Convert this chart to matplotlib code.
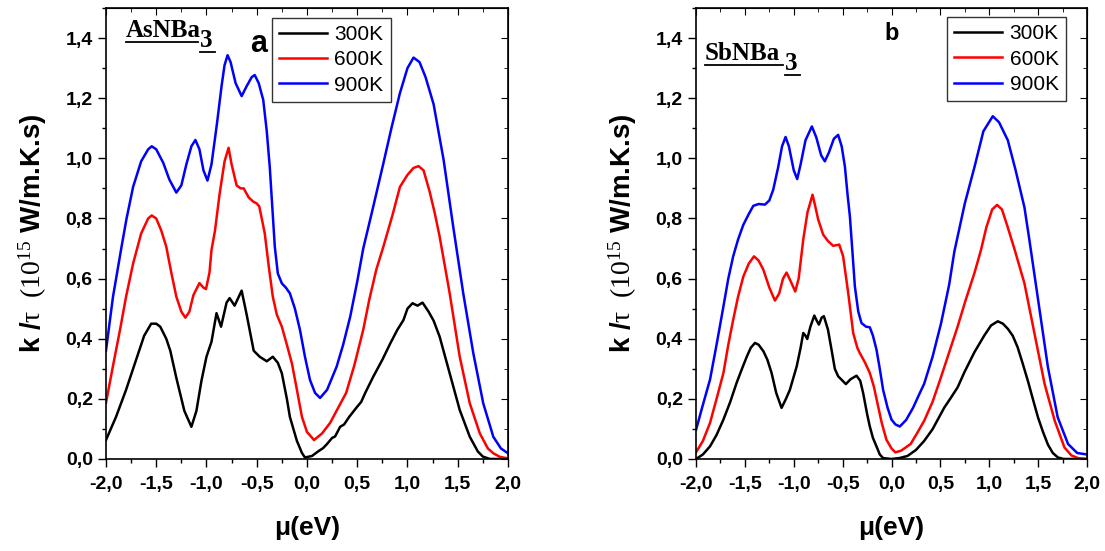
import matplotlib
matplotlib.use("Agg")
import matplotlib.pyplot as plt
from matplotlib.ticker import MultipleLocator, FuncFormatter

plt.rcParams['font.family'] = ['Liberation Sans', 'DejaVu Sans']
plt.rcParams['mathtext.fontset'] = 'custom'
plt.rcParams['mathtext.rm'] = 'Liberation Serif'
plt.rcParams['mathtext.it'] = 'Liberation Serif:italic'
plt.rcParams['mathtext.bf'] = 'Liberation Serif:bold'

labels = ["300K", "600K", "900K"]
colors = ["black", "red", "blue"]

# ---- panel a : AsNBa3 ----
a300_mu = [-2.0, -1.9, -1.8, -1.7, -1.62, -1.55, -1.5, -1.46, -1.4, -1.36, -1.3, -1.22, -1.15, -1.1,
           -1.05, -1.0, -0.95, -0.9, -0.855, -0.8, -0.77, -0.72, -0.65, -0.6, -0.53, -0.47, -0.4, -0.34,
           -0.29, -0.25, -0.2, -0.17, -0.1, -0.05, -0.02, 0.05, 0.11, 0.16, 0.2, 0.25, 0.28, 0.33, 0.37,
           0.42, 0.5, 0.54, 0.58, 0.66, 0.75, 0.83, 0.9, 0.96, 1.0, 1.05, 1.1, 1.15, 1.21, 1.26, 1.32,
           1.42, 1.52, 1.62, 1.7, 1.75, 1.82, 2.0]
a300_k = [0.063, 0.14, 0.23, 0.33, 0.41, 0.45, 0.45, 0.44, 0.40, 0.36, 0.27, 0.16, 0.107, 0.16,
          0.26, 0.34, 0.39, 0.485, 0.44, 0.52, 0.535, 0.51, 0.56, 0.48, 0.36, 0.34, 0.325, 0.34,
          0.32, 0.285, 0.20, 0.14, 0.06, 0.02, 0.005, 0.01, 0.025, 0.036, 0.05, 0.07, 0.075, 0.107, 0.115,
          0.14, 0.174, 0.19, 0.22, 0.274, 0.33, 0.385, 0.43, 0.462, 0.50, 0.518, 0.51, 0.52, 0.49, 0.46, 0.407,
          0.285, 0.163, 0.074, 0.025, 0.008, 0.0, 0.0]

a600_mu = [-2.0, -1.93, -1.86, -1.8, -1.73, -1.65, -1.58, -1.545, -1.5, -1.45, -1.4, -1.35, -1.3, -1.25,
           -1.21, -1.17, -1.13, -1.07, -1.03, -1.005, -0.97, -0.95, -0.915, -0.87, -0.82, -0.78, -0.75,
           -0.7, -0.66, -0.63, -0.58, -0.535, -0.5, -0.475, -0.45, -0.42, -0.38, -0.34, -0.3, -0.25, -0.2,
           -0.15, -0.1, -0.05, 0.0, 0.07, 0.15, 0.23, 0.31, 0.39, 0.47, 0.56, 0.62, 0.69, 0.76, 0.85, 0.925,
           1.0, 1.06, 1.11, 1.16, 1.22, 1.27, 1.32, 1.42, 1.52, 1.62, 1.72, 1.8, 1.854, 1.92, 2.0]
a600_k = [0.186, 0.31, 0.43, 0.54, 0.65, 0.75, 0.80, 0.81, 0.80, 0.76, 0.706, 0.62, 0.54, 0.49,
          0.47, 0.49, 0.545, 0.585, 0.57, 0.565, 0.62, 0.695, 0.76, 0.88, 0.99, 1.035, 0.98,
          0.91, 0.90, 0.90, 0.87, 0.856, 0.85, 0.84, 0.80, 0.75, 0.64, 0.54, 0.48, 0.44, 0.38,
          0.318, 0.23, 0.14, 0.09, 0.063, 0.085, 0.12, 0.17, 0.22, 0.31, 0.43, 0.53, 0.63, 0.706, 0.81, 0.905,
          0.945, 0.968, 0.974, 0.96, 0.89, 0.82, 0.74, 0.551, 0.34, 0.185, 0.085, 0.035, 0.019, 0.007, 0.002]

a900_mu = [-2.0, -1.93, -1.845, -1.795, -1.73, -1.65, -1.58, -1.545, -1.5, -1.43, -1.37, -1.3, -1.25,
           -1.2, -1.15, -1.11, -1.07, -1.03, -0.99, -0.95, -0.895, -0.85, -0.82, -0.79, -0.76, -0.71, -0.65,
           -0.6, -0.55, -0.52, -0.48, -0.435, -0.4, -0.37, -0.32, -0.29, -0.25, -0.21, -0.17, -0.12, -0.07,
           -0.02, 0.03, 0.08, 0.13, 0.2, 0.295, 0.36, 0.43, 0.5, 0.56, 0.66, 0.76, 0.84, 0.925, 1.0, 1.06,
           1.12, 1.18, 1.26, 1.36, 1.455, 1.555, 1.655, 1.754, 1.854, 1.93, 2.0]
a900_k = [0.36, 0.54, 0.706, 0.80, 0.905, 0.99, 1.03, 1.04, 1.03, 0.985, 0.93, 0.886, 0.91,
          0.98, 1.04, 1.061, 1.03, 0.96, 0.926, 0.98, 1.117, 1.24, 1.31, 1.343, 1.32, 1.25, 1.207,
          1.24, 1.27, 1.277, 1.25, 1.194, 1.09, 0.97, 0.706, 0.617, 0.584, 0.57, 0.551, 0.50, 0.43,
          0.34, 0.263, 0.22, 0.203, 0.23, 0.307, 0.38, 0.473, 0.59, 0.70, 0.84, 0.983, 1.10, 1.217, 1.30, 1.335,
          1.32, 1.27, 1.18, 0.994, 0.773, 0.551, 0.352, 0.185, 0.074, 0.035, 0.019]

# ---- panel b : SbNBa3 ----
b300_mu = [-2.0, -1.93, -1.857, -1.79, -1.72, -1.65, -1.585, -1.53, -1.48, -1.44, -1.397, -1.36, -1.31,
           -1.27, -1.227, -1.18, -1.125, -1.08, -1.04, -0.97, -0.93, -0.903, -0.88, -0.862, -0.83, -0.79,
           -0.765, -0.743, -0.715, -0.692, -0.65, -0.614, -0.58, -0.546, -0.5, -0.467, -0.42, -0.358, -0.32,
           -0.29, -0.25, -0.222, -0.19, -0.154, -0.12, -0.086, 0.0, 0.08, 0.163, 0.25, 0.334, 0.42, 0.54,
           0.6, 0.676, 0.745, 0.848, 0.95, 1.018, 1.087, 1.14, 1.19, 1.24, 1.29, 1.34, 1.395, 1.45, 1.5,
           1.55, 1.6, 1.65, 1.703, 1.76, 2.0]
b300_k = [0.0, 0.015, 0.042, 0.08, 0.131, 0.19, 0.253, 0.30, 0.341, 0.37, 0.386, 0.38, 0.358,
          0.33, 0.286, 0.22, 0.17, 0.20, 0.23, 0.308, 0.37, 0.419, 0.41, 0.399, 0.44, 0.477,
          0.46, 0.447, 0.47, 0.475, 0.43, 0.364, 0.30, 0.275, 0.26, 0.249, 0.265, 0.277, 0.26,
          0.219, 0.15, 0.108, 0.07, 0.042, 0.015, 0.003, 0.0, 0.003, 0.01, 0.03, 0.06, 0.099, 0.171,
          0.20, 0.238, 0.288, 0.355, 0.411, 0.444, 0.458, 0.45, 0.433, 0.41, 0.372, 0.32, 0.26, 0.195, 0.137,
          0.09, 0.048, 0.02, 0.005, 0.0, 0.0]

b600_mu = [-2.0, -1.93, -1.857, -1.79, -1.72, -1.67, -1.62, -1.57, -1.516, -1.46, -1.407, -1.36, -1.312,
           -1.25, -1.193, -1.15, -1.11, -1.074, -1.03, -0.985, -0.95, -0.903, -0.86, -0.808, -0.78, -0.75,
           -0.699, -0.65, -0.597, -0.535, -0.495, -0.443, -0.392, -0.35, -0.324, -0.27, -0.222, -0.18,
           -0.137, -0.1, -0.052, 0.0, 0.04, 0.1, 0.196, 0.26, 0.334, 0.42, 0.506, 0.59, 0.676, 0.76, 0.848,
           0.916, 0.97, 1.03, 1.08, 1.13, 1.19, 1.26, 1.36, 1.463, 1.566, 1.67, 1.77, 1.84, 1.908, 2.0]
b600_k = [0.022, 0.06, 0.12, 0.20, 0.286, 0.38, 0.463, 0.54, 0.607, 0.65, 0.674, 0.66, 0.63,
          0.57, 0.527, 0.55, 0.60, 0.62, 0.59, 0.557, 0.60, 0.73, 0.82, 0.879, 0.84, 0.796,
          0.746, 0.725, 0.709, 0.713, 0.674, 0.552, 0.419, 0.37, 0.352, 0.32, 0.286, 0.24,
          0.175, 0.12, 0.064, 0.035, 0.022, 0.028, 0.05, 0.085, 0.127, 0.19, 0.272, 0.355, 0.44, 0.53, 0.618,
          0.696, 0.77, 0.83, 0.845, 0.83, 0.77, 0.696, 0.584, 0.417, 0.25, 0.127, 0.038, 0.012, 0.003, 0.0]

b900_mu = [-2.0, -1.93, -1.857, -1.79, -1.72, -1.67, -1.62, -1.57, -1.516, -1.46, -1.414, -1.36, -1.295,
           -1.25, -1.21, -1.16, -1.12, -1.084, -1.05, -1.0, -0.965, -0.93, -0.88, -0.815, -0.77, -0.72,
           -0.682, -0.64, -0.59, -0.546, -0.51, -0.477, -0.45, -0.426, -0.4, -0.375, -0.34, -0.307, -0.26,
           -0.222, -0.19, -0.154, -0.12, -0.086, -0.04, 0.0, 0.04, 0.085, 0.15, 0.22, 0.289, 0.334, 0.42,
           0.506, 0.59, 0.643, 0.75, 0.848, 0.94, 1.036, 1.1, 1.19, 1.27, 1.36, 1.41, 1.5, 1.6, 1.7, 1.806,
           1.9, 2.0]
b900_k = [0.097, 0.18, 0.264, 0.38, 0.507, 0.60, 0.674, 0.73, 0.779, 0.815, 0.842, 0.848, 0.846,
          0.86, 0.896, 0.97, 1.04, 1.071, 1.04, 0.96, 0.931, 0.98, 1.06, 1.106, 1.07, 1.01,
          0.99, 1.02, 1.065, 1.078, 1.04, 0.973, 0.88, 0.807, 0.69, 0.574, 0.49, 0.452, 0.44,
          0.438, 0.41, 0.364, 0.30, 0.23, 0.17, 0.131, 0.115, 0.108, 0.13, 0.17, 0.219, 0.25, 0.34,
          0.45, 0.58, 0.69, 0.85, 0.97, 1.09, 1.14, 1.12, 1.06, 0.96, 0.837, 0.73, 0.529, 0.306, 0.139, 0.05,
          0.02, 0.015]

fig = plt.figure(figsize=(11.05, 5.51), dpi=100)
ax1 = fig.add_axes([0.0959, 0.167, 0.3638, 0.8185])
ax2 = fig.add_axes([0.6299, 0.167, 0.3538, 0.8185])

comma = FuncFormatter(lambda v, p: ("%.1f" % v).replace(".", ","))

panels = [
    (ax1, [(a300_mu, a300_k), (a600_mu, a600_k), (a900_mu, a900_k)]),
    (ax2, [(b300_mu, b300_k), (b600_mu, b600_k), (b900_mu, b900_k)]),
]

for ax, curves in panels:
    for (mu, k), c, lab in zip(curves, colors, labels):
        ax.plot(mu, k, color=c, lw=1.8, label=lab)
    ax.set_xlim(-2, 2)
    ax.set_ylim(0, 1.5)
    ax.xaxis.set_major_locator(MultipleLocator(0.5))
    ax.xaxis.set_minor_locator(MultipleLocator(0.25))
    ax.yaxis.set_major_locator(MultipleLocator(0.2))
    ax.yaxis.set_minor_locator(MultipleLocator(0.1))
    ax.xaxis.set_major_formatter(comma)
    ax.yaxis.set_major_formatter(comma)
    ax.tick_params(which='both', direction='out', top=False, right=False, width=1)
    ax.tick_params(which='major', length=6, labelsize=14)
    ax.tick_params(axis='x', which='major', pad=6)
    ax.tick_params(which='minor', length=3)
    for t in ax.get_xticklabels() + ax.get_yticklabels():
        t.set_fontweight('bold')
    # mirrored inward ticks on top / right
    sx = ax.secondary_xaxis('top')
    sx.xaxis.set_major_locator(MultipleLocator(0.5))
    sx.xaxis.set_minor_locator(MultipleLocator(0.25))
    sx.tick_params(which='both', direction='in', labeltop=False)
    sx.tick_params(which='major', length=5)
    sx.tick_params(which='minor', length=3)
    sy = ax.secondary_yaxis('right')
    sy.yaxis.set_major_locator(MultipleLocator(0.2))
    sy.yaxis.set_minor_locator(MultipleLocator(0.1))
    sy.tick_params(which='both', direction='in', labelright=False)
    sy.tick_params(which='major', length=5)
    sy.tick_params(which='minor', length=3)
    for s in ax.spines.values():
        s.set_linewidth(1.2)
    ax.set_xlabel("μ(eV)", fontsize=19, fontweight='bold', labelpad=17)
    ax.set_ylabel(r"k /$\mathrm{τ\ \ (10^{15}}$ W/m.K.s)", fontsize=20, fontweight='bold', labelpad=12)

leg_kw = dict(loc='upper left', fontsize=15, frameon=True, fancybox=False, edgecolor='black',
              handlelength=2.3, handletextpad=0.35, labelspacing=0.3, borderpad=0.35, borderaxespad=0)
leg1 = ax1.legend(bbox_to_anchor=(0.413, 0.978), **leg_kw)
leg1.get_frame().set_linewidth(1.0)
leg2 = ax2.legend(bbox_to_anchor=(0.642, 0.98), **leg_kw)
leg2.get_frame().set_linewidth(1.0)

# compound names (underlined, subscript 3)
serif = dict(family='Liberation Serif', fontweight='bold', fontsize=18, va='baseline')
ax1.text(0.05, 0.9357, "AsNBa", transform=ax1.transAxes, **serif)
ax1.text(0.234, 0.9135, "3", transform=ax1.transAxes, **serif)
ax1.plot([0.05, 0.229], [0.9246, 0.9246], transform=ax1.transAxes, color='black', lw=1.3)
ax1.plot([0.234, 0.271], [0.902, 0.902], transform=ax1.transAxes, color='black', lw=1.3)
ax1.text(0.358, 0.9024, "a", transform=ax1.transAxes, fontsize=22, fontweight='bold', va='baseline')

ax2.text(0.023, 0.8847, "SbNBa", transform=ax2.transAxes, **serif)
ax2.text(0.2276, 0.8625, "3", transform=ax2.transAxes, **serif)
ax2.plot([0.023, 0.2225], [0.874, 0.874], transform=ax2.transAxes, color='black', lw=1.3)
ax2.plot([0.2276, 0.266], [0.852, 0.852], transform=ax2.transAxes, color='black', lw=1.3)
ax2.text(0.481, 0.929, "b", transform=ax2.transAxes, fontsize=17, fontweight='bold', va='baseline')

fig.savefig("out.png", dpi=100)
